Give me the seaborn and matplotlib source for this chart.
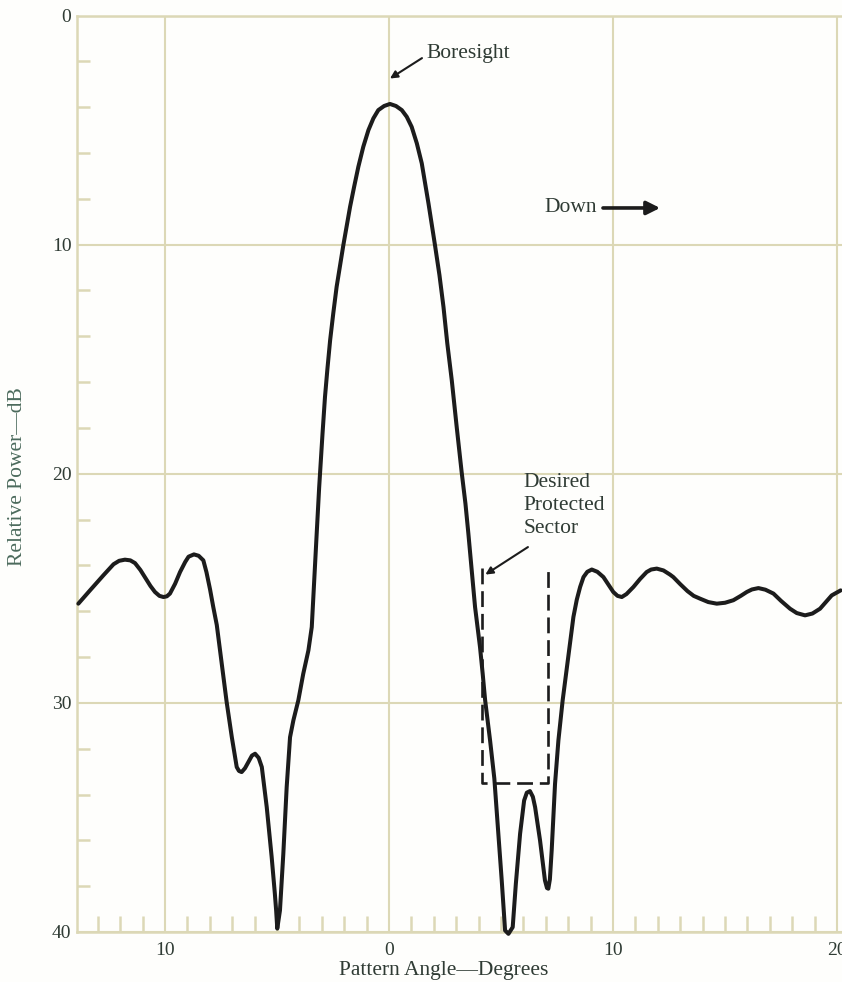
import numpy as np
import pandas as pd
import matplotlib
matplotlib.use("Agg")
import matplotlib.pyplot as plt
import seaborn as sns

# antenna pattern: angle (deg) vs relative power (dB down)
angle = [-13.87, -13.35, -12.75, -12.3, -12.05, -11.79, -11.55, -11.34, -11.1, -10.89,
         -10.65, -10.45, -10.25, -10.07, -9.92, -9.78, -9.55, -9.33, -9.1, -8.95,
         -8.71, -8.5, -8.29, -8.15, -7.99, -7.85, -7.69, -7.47, -7.25, -7.02,
         -6.8, -6.7, -6.58, -6.43, -6.28, -6.12, -5.98, -5.82, -5.68, -5.46,
         -5.24, -5.1, -5.04, -4.99, -4.87, -4.72, -4.57, -4.42, -4.27, -4.05,
         -3.83, -3.6, -3.45, -3.35, -3.23, -3.12, -2.97, -2.86, -2.75, -2.63,
         -2.49, -2.34, -2.04, -1.74, -1.56, -1.37, -1.15, -0.92, -0.7, -0.48,
         -0.22, 0.04, 0.31, 0.57, 0.79, 1.01, 1.24, 1.46, 1.76, 1.9,
         2.05, 2.25, 2.43, 2.6, 2.8, 3.02, 3.24, 3.41, 3.54, 3.73,
         3.84, 4.06, 4.18, 4.29, 4.51, 4.7, 4.88, 5.03, 5.18, 5.33,
         5.52, 5.66, 5.85, 6.03, 6.15, 6.29, 6.42, 6.52, 6.74, 6.96,
         7.05, 7.11, 7.18, 7.26, 7.41, 7.56, 7.75, 8.0, 8.23, 8.38,
         8.53, 8.68, 8.85, 9.05, 9.3, 9.57, 9.8, 10.01, 10.2, 10.39,
         10.6, 10.91, 11.2, 11.5, 11.7, 11.95, 12.25, 12.54, 12.69, 13.0,
         13.32, 13.6, 13.88, 14.25, 14.63, 15.0, 15.37, 15.7, 15.97, 16.2,
         16.49, 16.8, 17.16, 17.5, 17.9, 18.2, 18.57, 18.9, 19.24, 19.5,
         19.76, 20.16]
power_db = [25.67, 25.09, 24.43, 23.95, 23.8, 23.75, 23.78, 23.9, 24.2, 24.53,
            24.9, 25.16, 25.33, 25.38, 25.35, 25.23, 24.8, 24.29, 23.85, 23.62,
            23.52, 23.58, 23.78, 24.3, 25.05, 25.8, 26.6, 28.29, 29.96, 31.49,
            32.8, 32.97, 33.02, 32.85, 32.58, 32.3, 32.22, 32.4, 32.8, 34.55,
            36.73, 38.3, 39.06, 39.85, 39.06, 36.59, 33.68, 31.5, 30.76, 29.89,
            28.73, 27.71, 26.69, 24.8, 22.61, 20.6, 18.25, 16.65, 15.41, 14.17,
            13.0, 11.84, 10.02, 8.35, 7.48, 6.6, 5.73, 5.0, 4.49, 4.13,
            3.95, 3.86, 3.95, 4.13, 4.42, 4.86, 5.58, 6.45, 8.2, 9.07,
            10.02, 11.33, 12.72, 14.31, 15.92, 17.96, 19.92, 21.3, 22.6, 24.65,
            25.82, 27.56, 28.73, 29.89, 31.64, 33.3, 35.71, 37.75, 39.93, 40.08,
            39.79, 37.9, 35.71, 34.26, 33.92, 33.85, 34.1, 34.55, 36.0, 37.75,
            38.08, 38.11, 37.7, 36.44, 33.53, 31.64, 29.89, 28.0, 26.25, 25.5,
            24.94, 24.51, 24.28, 24.18, 24.28, 24.51, 24.85, 25.16, 25.33, 25.38,
            25.25, 24.94, 24.6, 24.29, 24.18, 24.14, 24.22, 24.4, 24.51, 24.82,
            25.12, 25.33, 25.45, 25.6, 25.67, 25.63, 25.52, 25.33, 25.16, 25.05,
            24.99, 25.06, 25.23, 25.55, 25.89, 26.08, 26.18, 26.1, 25.89, 25.6,
            25.31, 25.09]

# dashed "desired protected sector" box (open at the top)
sector_angle = [4.15, 4.15, 7.1, 7.1]
sector_db = [24.1, 33.5, 33.5, 24.1]

x_ticks = [-10, 0, 10, 20]
x_tick_labels = ["10", "0", "10", "20"]
y_ticks = [0, 10, 20, 30, 40]

df = pd.DataFrame({"angle": angle, "power": power_db})

sns.set_style("white")
plt.rcParams["font.family"] = ["Liberation Serif", "DejaVu Serif"]

grid_col = "#dcd8b6"
text_col = "#2f3b34"
ink = "#1c1c1c"

fig = plt.figure(figsize=(8.42, 9.82), dpi=100)
fig.patch.set_facecolor("#fefefc")
ax = fig.add_axes([77 / 842, 50 / 982, 1 - 77 / 842, (932 - 15.5) / 982])
ax.set_facecolor("#fefefc")

sns.lineplot(data=df, x="angle", y="power", ax=ax, color=ink, linewidth=2.9,
             sort=False, estimator=None, clip_on=False, zorder=5)
ax.lines[-1].set_solid_joinstyle("round")
ax.lines[-1].set_solid_capstyle("round")

ax.plot(sector_angle, sector_db, color=ink, linewidth=1.9, dashes=(6, 2.6), zorder=4)

ax.set_xlim(-13.93, 20.22)
ax.set_ylim(40, 0)

ax.set_xticks(x_ticks)
ax.set_xticklabels(x_tick_labels)
ax.set_yticks(y_ticks)
ax.set_xticks([v for v in range(-13, 20) if v % 10 != 0], minor=True)
ax.set_yticks([v for v in range(2, 40, 2) if v % 10 != 0], minor=True)
ax.tick_params(axis="both", which="both", bottom=True, left=True, top=False, right=False)
ax.tick_params(axis="both", which="major", length=0, labelsize=14, labelcolor=text_col)
ax.tick_params(axis="x", which="major", pad=7)
ax.tick_params(axis="y", which="major", pad=4)
ax.tick_params(axis="x", which="minor", direction="in", length=11.5, width=1.8, color=grid_col)
ax.tick_params(axis="y", which="minor", direction="in", length=9.5, width=1.8, color=grid_col)

ax.grid(True, which="major", color=grid_col, linewidth=1.5)
ax.grid(False, which="minor")
for side in ["left", "bottom", "top"]:
    ax.spines[side].set_color(grid_col)
    ax.spines[side].set_linewidth(1.8)
ax.spines["right"].set_visible(False)
ax.set_xlabel("")
ax.set_ylabel("")

# annotations
fs = 15.5
ax.text(1.65, 1.64, "Boresight", fontsize=fs, color=text_col, va="center", ha="left")
ax.annotate("", xy=(0.04, 2.75), xytext=(1.47, 1.86),
            arrowprops=dict(arrowstyle="-|>", color=ink, lw=1.5, mutation_scale=11,
                            shrinkA=0, shrinkB=0))
ax.text(6.95, 8.4, "Down", fontsize=fs, color=text_col, va="center", ha="left")
ax.annotate("", xy=(12.1, 8.4), xytext=(9.55, 8.4),
            arrowprops=dict(arrowstyle="-|>", color=ink, lw=2.6, mutation_scale=20,
                            shrinkA=0, shrinkB=0))
ax.text(6.0, 19.95, "Desired\nProtected\nSector", fontsize=fs, color=text_col,
        va="top", ha="left", linespacing=1.3)
ax.annotate("", xy=(4.3, 24.4), xytext=(6.2, 23.2),
            arrowprops=dict(arrowstyle="-|>", color=ink, lw=1.5, mutation_scale=11,
                            shrinkA=0, shrinkB=0))

fig.text(444 / 842, 1 - 971 / 982, "Pattern Angle—Degrees", fontsize=15.5, color=text_col,
         ha="center", va="center")
fig.text(18 / 842, 1 - 477 / 982, "Relative Power—dB", fontsize=15.5, color="#4b6a5c",
         ha="center", va="center", rotation=90)

fig.savefig("out.png", dpi=100, facecolor=fig.get_facecolor())
